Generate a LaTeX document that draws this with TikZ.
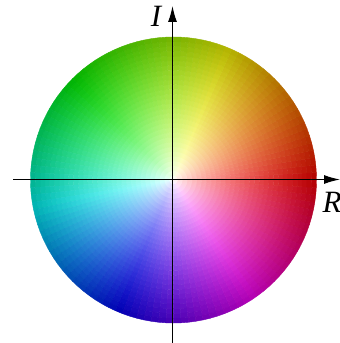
\documentclass[tikz,border=0pt]{standalone}
\usepackage{fontspec}
\setmainfont{Liberation Serif}
\usetikzlibrary{arrows.meta}
\tikzset{
  axis/.style={line width=1.2pt, -{Latex[length=16pt,width=9pt]}},
  axlabel/.style={font=\fontsize{31}{31}\selectfont\itshape, inner sep=0pt}
}
\begin{document}
\begin{tikzpicture}[x=1pt,y=1pt]
\useasboundingbox (0,0) rectangle (340,343);
\fill[white] (0,0) rectangle (340,343);
% colour disk
\begin{scope}[shift={(173.5,163)}]
\def\RR{143}
\def\NN{30}
\foreach \i in {0,...,29}{
  \foreach \a in {0,3,...,357}{
    \pgfmathsetmacro{\ra}{max(\i*\RR/\NN,0.01)}
    \pgfmathsetmacro{\rb}{(\i+1)*\RR/\NN}
    \pgfmathsetmacro{\tt}{(\i+0.5)/\NN}
    \pgfmathsetmacro{\ss}{pow(\tt,0.7)}
    \pgfmathsetmacro{\mm}{\a+1.5}
    \pgfmathsetmacro{\hh}{\mm<135 ? \mm*0.8889 : 120+(\mm-135)*1.0667}
    \pgfmathsetmacro{\bb}{1-0.3*\tt*\tt}
    \convertcolorspec{Hsb}{\hh,\ss,\bb}{rgb}\tmpspec
    \definecolor{tmpc}{rgb}{\tmpspec}
    \fill[tmpc,draw=tmpc,line width=0.4pt] (\a:\ra) arc[start angle=\a,end angle=\a+3,radius=\ra]
      -- (\a+3:\rb) arc[start angle=\a+3,end angle=\a,radius=\rb] -- cycle;
  }
}
\end{scope}
\coordinate (xs) at (13,163.5);
\coordinate (xe) at (340,163.5);
\coordinate (ys) at (172.5,0);
\coordinate (ye) at (172.5,337);
\draw[axis] (xs) -- (xe);
\draw[axis] (ys) -- (ye);
\node[axlabel] (lI) at (156,327) {I};
\node[axlabel] (lR) at (332,141) {R};
\end{tikzpicture}
\end{document}
